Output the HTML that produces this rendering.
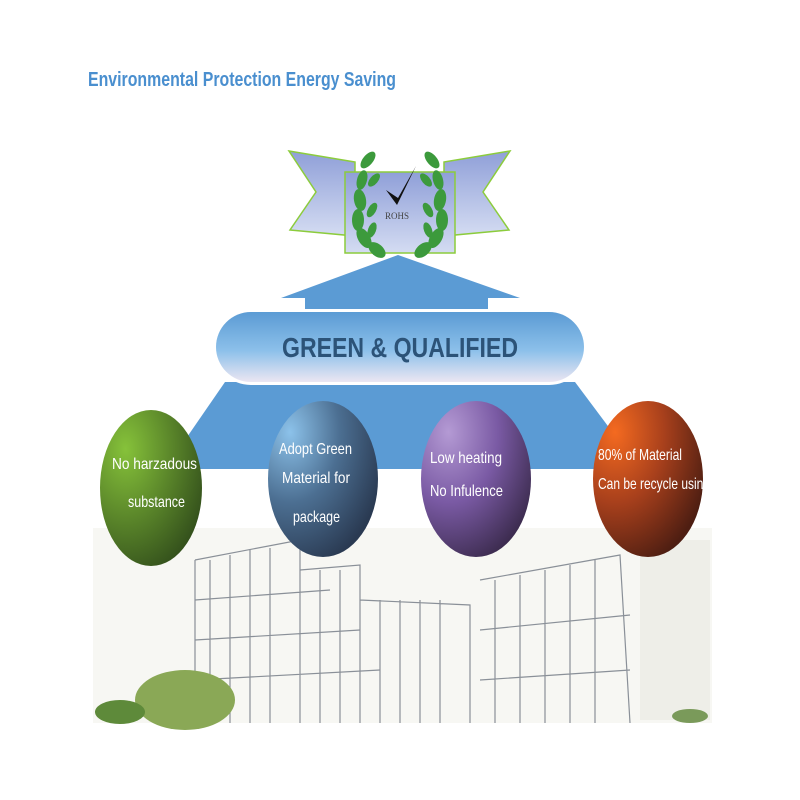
<!DOCTYPE html>
<html><head><style>body{margin:0;background:#fff}svg{display:block}</style></head><body>
<svg width="800" height="800" viewBox="0 0 800 800" xmlns="http://www.w3.org/2000/svg" font-family="Liberation Sans, sans-serif">
<defs>
<linearGradient id="rib" x1="0" y1="0" x2="0" y2="1"><stop offset="0" stop-color="#8f9fd8"/><stop offset="1" stop-color="#d4dcf2"/></linearGradient>
<linearGradient id="pill" x1="0" y1="0" x2="0" y2="1"><stop offset="0" stop-color="#5b9bd4"/><stop offset="0.55" stop-color="#8cc0ea"/><stop offset="1" stop-color="#ece6f2"/></linearGradient>
<radialGradient id="g1" cx="0.25" cy="0.25" r="0.9"><stop offset="0" stop-color="#86c23a"/><stop offset="1" stop-color="#2f4a1a"/></radialGradient>
<radialGradient id="g2" cx="0.2" cy="0.2" r="0.9"><stop offset="0" stop-color="#8cc2ea"/><stop offset="0.5" stop-color="#4c6f92"/><stop offset="1" stop-color="#2a3a52"/></radialGradient>
<radialGradient id="g3" cx="0.25" cy="0.2" r="0.9"><stop offset="0" stop-color="#b49ad4"/><stop offset="0.5" stop-color="#7a5aa4"/><stop offset="1" stop-color="#3a2a4c"/></radialGradient>
<radialGradient id="g4" cx="0.2" cy="0.2" r="0.9"><stop offset="0" stop-color="#f46a20"/><stop offset="0.5" stop-color="#a8401c"/><stop offset="1" stop-color="#4e1e12"/></radialGradient>
<clipPath id="c4"><ellipse cx="648" cy="479" rx="55" ry="78"/></clipPath>
</defs>
<text x="88" y="86" font-size="20" font-weight="bold" fill="#4a8fcf" textLength="308" lengthAdjust="spacingAndGlyphs">Environmental Protection Energy Saving</text>
<!-- ribbon -->
<polygon points="289,151 355,162 355,236 290,230 316,192" fill="url(#rib)" stroke="#8ccc3c" stroke-width="1.5"/>
<polygon points="510,151 444,162 444,236 509,230 483,192" fill="url(#rib)" stroke="#8ccc3c" stroke-width="1.5"/>
<rect x="345" y="172" width="110" height="81" fill="url(#rib)" stroke="#8ccc3c" stroke-width="1.5"/>
<g fill="#3c9a3c">
<ellipse cx="360" cy="200" rx="6" ry="11" transform="rotate(-10 360 200)"/><ellipse cx="358" cy="220" rx="6" ry="11"/><ellipse cx="364" cy="238" rx="6" ry="11" transform="rotate(-30 364 238)"/><ellipse cx="377" cy="250" rx="6" ry="10" transform="rotate(-50 377 250)"/><ellipse cx="368" cy="160" rx="5" ry="10" transform="rotate(40 368 160)"/><ellipse cx="362" cy="180" rx="5" ry="10" transform="rotate(15 362 180)"/>
<ellipse cx="372" cy="210" rx="4" ry="8" transform="rotate(30 372 210)"/><ellipse cx="372" cy="230" rx="4" ry="8" transform="rotate(20 372 230)"/><ellipse cx="374" cy="180" rx="4" ry="8" transform="rotate(40 374 180)"/>
<ellipse cx="440" cy="200" rx="6" ry="11" transform="rotate(10 440 200)"/><ellipse cx="442" cy="220" rx="6" ry="11"/><ellipse cx="436" cy="238" rx="6" ry="11" transform="rotate(30 436 238)"/><ellipse cx="423" cy="250" rx="6" ry="10" transform="rotate(50 423 250)"/><ellipse cx="432" cy="160" rx="5" ry="10" transform="rotate(-40 432 160)"/><ellipse cx="438" cy="180" rx="5" ry="10" transform="rotate(-15 438 180)"/>
<ellipse cx="428" cy="210" rx="4" ry="8" transform="rotate(-30 428 210)"/><ellipse cx="428" cy="230" rx="4" ry="8" transform="rotate(-20 428 230)"/><ellipse cx="426" cy="180" rx="4" ry="8" transform="rotate(-40 426 180)"/>
</g>
<path d="M386,190 L397,205 L416,166 L398,198 Z" fill="#111"/>
<text x="397" y="219" font-size="9" font-family="Liberation Serif, serif" fill="#444" text-anchor="middle">ROHS</text>
<!-- arrow up -->
<polygon points="398,255 520,298 488,298 488,310 305,310 305,298 281,298" fill="#5b9bd4"/>
<!-- lower trapezoid -->
<polygon points="225,382 575,382 640,469 165,469" fill="#5b9bd4"/>
<rect x="213" y="309" width="374" height="76" rx="38" fill="#fff"/>
<rect x="216" y="312" width="368" height="70" rx="35" fill="url(#pill)"/>
<text x="400" y="357" font-size="28" font-weight="bold" fill="#2c5378" text-anchor="middle" textLength="236" lengthAdjust="spacingAndGlyphs">GREEN &amp; QUALIFIED</text>
<!-- buildings -->
<rect x="93" y="528" width="619" height="195" fill="#f7f7f3"/>
<g stroke="#8a9098" stroke-width="1.2" fill="none">
<path d="M195,560 L300,540 L300,723 M195,560 L195,723 M210,560 L210,723 M230,555 L230,723 M250,550 L250,723 M270,548 L270,723 M195,600 L330,590 M195,640 L360,630 M195,680 L380,670"/>
<path d="M300,570 L360,565 L360,723 M320,570 L320,723 M340,570 L340,723 M360,600 L470,605 L470,723 M380,600 L380,723 M400,600 L400,723 M420,600 L420,723 M440,600 L440,723"/>
<path d="M480,580 L620,555 L630,723 M495,580 L495,723 M520,575 L520,723 M545,570 L545,723 M570,565 L570,723 M595,560 L595,723 M480,630 L630,615 M480,680 L630,670"/>
</g>
<rect x="640" y="540" width="70" height="180" fill="#eeeee8"/>
<ellipse cx="185" cy="700" rx="50" ry="30" fill="#8aa856"/>
<ellipse cx="120" cy="712" rx="25" ry="12" fill="#5e8a3a"/>
<ellipse cx="690" cy="716" rx="18" ry="7" fill="#7a9a5a"/>
<!-- circles -->
<ellipse cx="151" cy="488" rx="51" ry="78" fill="url(#g1)"/>
<ellipse cx="323" cy="479" rx="55" ry="78" fill="url(#g2)"/>
<ellipse cx="476" cy="479" rx="55" ry="78" fill="url(#g3)"/>
<ellipse cx="648" cy="479" rx="55" ry="78" fill="url(#g4)"/>
<g fill="#fff" font-size="16" lengthAdjust="spacingAndGlyphs">
<text x="112" y="469" textLength="85" lengthAdjust="spacingAndGlyphs">No harzadous</text><text x="128" y="507" textLength="57" lengthAdjust="spacingAndGlyphs">substance</text>
<text x="279" y="454" textLength="73" lengthAdjust="spacingAndGlyphs">Adopt Green</text><text x="282" y="483" textLength="68" lengthAdjust="spacingAndGlyphs">Material for</text><text x="293" y="522" textLength="47" lengthAdjust="spacingAndGlyphs">package</text>
<text x="430" y="463" textLength="72" lengthAdjust="spacingAndGlyphs">Low heating</text><text x="430" y="496" textLength="73" lengthAdjust="spacingAndGlyphs">No Infulence</text>
<g clip-path="url(#c4)"><text x="598" y="460" textLength="84" lengthAdjust="spacingAndGlyphs">80% of Material</text><text x="598" y="489" textLength="112" lengthAdjust="spacingAndGlyphs">Can be recycle using</text></g>
</g>
</svg>
</body></html>
